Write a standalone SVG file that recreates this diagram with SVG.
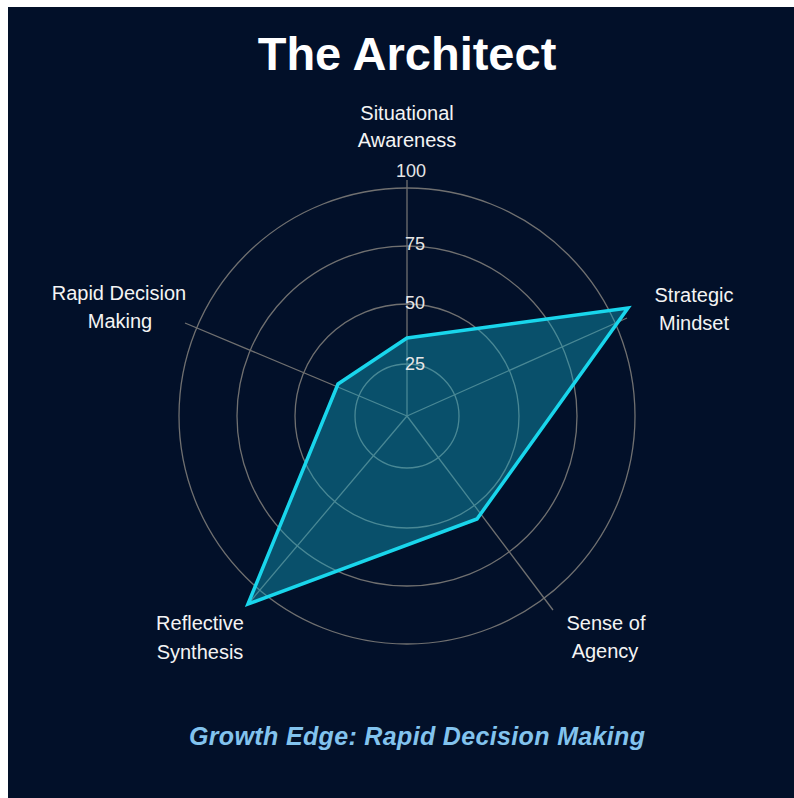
<svg xmlns="http://www.w3.org/2000/svg" width="794" height="798" viewBox="0 0 794 798">
<style>
.grid{fill:none;stroke:#707070;stroke-width:1.3}
.lbl{font-family:"Liberation Sans",Arial,sans-serif;font-size:20px;fill:#f4f4f4;text-anchor:middle}
.tick{font-family:"Liberation Sans",Arial,sans-serif;font-size:18px;fill:#e6e6e6;text-anchor:middle}
</style>
<rect x="0" y="0" width="794" height="798" fill="#ffffff"/>
<rect x="8" y="7" width="786" height="791" fill="#021029"/>
<text x="407" y="70" font-family="'Liberation Sans',Arial,sans-serif" font-size="47" font-weight="bold" fill="#ffffff" text-anchor="middle">The Architect</text>
<g id="grid">
<circle class="grid" cx="407" cy="416" r="52"/>
<circle class="grid" cx="407" cy="416" r="112"/>
<circle class="grid" cx="407" cy="416" r="170"/>
<circle class="grid" cx="407" cy="416" r="228"/>
</g>
<g id="connectors">
<line class="grid" x1="407" y1="416" x2="407" y2="180"/>
<line class="grid" x1="407" y1="416" x2="627" y2="318"/>
<line class="grid" x1="407" y1="416" x2="553" y2="610"/>
<line class="grid" x1="407" y1="416" x2="249" y2="603"/>
<line class="grid" x1="407" y1="416" x2="185" y2="323"/>
</g>
<g id="data">
<polygon points="407,338 628,308 477,519 248,604 338,384" fill="#14aac8" fill-opacity="0.42" stroke="#19d6ec" stroke-width="3.5" stroke-linejoin="miter"/>
</g>
<g id="ticks">
<text class="tick" x="411" y="177">100</text>
<text class="tick" x="415" y="250">75</text>
<text class="tick" x="415" y="309">50</text>
<text class="tick" x="415" y="370">25</text>
</g>
<g id="node-situational"><text class="lbl" x="407" y="120">Situational</text><text class="lbl" x="407" y="147">Awareness</text></g>
<g id="node-strategic"><text class="lbl" x="694" y="302">Strategic</text><text class="lbl" x="694" y="330">Mindset</text></g>
<g id="node-agency"><text class="lbl" x="606" y="630">Sense of</text><text class="lbl" x="605" y="658">Agency</text></g>
<g id="node-reflective"><text class="lbl" x="200" y="630">Reflective</text><text class="lbl" x="200" y="659">Synthesis</text></g>
<g id="node-rapid"><text class="lbl" x="119" y="300">Rapid Decision</text><text class="lbl" x="120" y="328">Making</text></g>
<text x="417" y="745" font-family="'Liberation Sans',Arial,sans-serif" font-size="25" font-weight="bold" font-style="italic" fill="#82c3ee" text-anchor="middle" textLength="456" lengthAdjust="spacing">Growth Edge: Rapid Decision Making</text>
</svg>
